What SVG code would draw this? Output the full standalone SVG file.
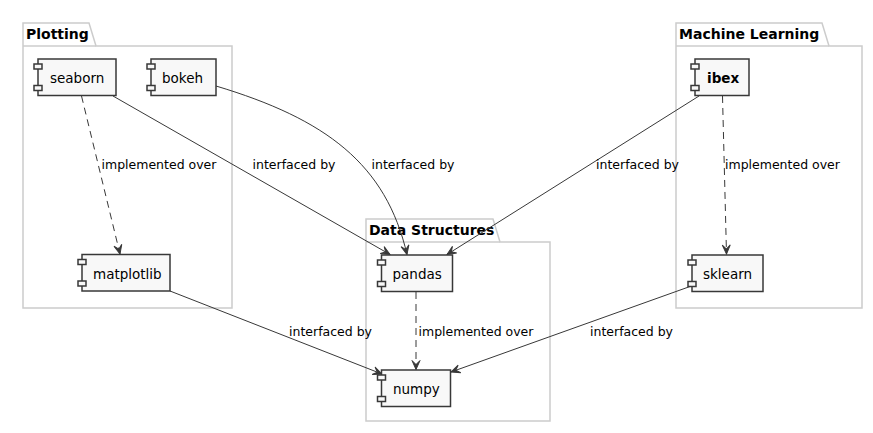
<svg xmlns="http://www.w3.org/2000/svg" width="873" height="433" viewBox="0 0 873 433">
<style>
.pkg{fill:#FFFFFF;stroke:#CCCCCC;stroke-width:1.5}
.pkgline{fill:none;stroke:#CCCCCC;stroke-width:1.5}
.ptitle{font-family:"DejaVu Sans",sans-serif;font-size:14px;font-weight:bold;fill:#000000}
.comp{fill:#F8F8F8;stroke:#383838;stroke-width:1.5}
.ctext{font-family:"DejaVu Sans",sans-serif;font-size:13.5px;fill:#000000}
.bold{font-weight:bold}
.edge{fill:none;stroke:#383838;stroke-width:1}
.dash{stroke-dasharray:7,5}
.lbl{font-family:"DejaVu Sans",sans-serif;font-size:12.5px;fill:#000000}
</style>
<defs>
<marker id="arr" viewBox="-10 -5 11 10" refX="0" refY="0" markerWidth="11" markerHeight="10" markerUnits="userSpaceOnUse" orient="auto">
<path d="M0,0 L-9,-4 L-5,0 L-9,4 Z" fill="#383838" stroke="#383838" stroke-width="1" stroke-dasharray="none"/>
</marker>
</defs>
<rect x="0" y="0" width="873" height="433" fill="#FFFFFF"/>

<g id="pkg-plotting">
<path class="pkg" d="M23,23 L89,23 L96,46 L232,46 L232,308 L23,308 Z"/>
<path class="pkgline" d="M23,46 L96,46"/>
<text class="ptitle" x="26" y="39">Plotting</text>
</g>
<g id="pkg-datastructures">
<path class="pkg" d="M366,219 L493,219 L500,242 L550,242 L550,421 L366,421 Z"/>
<path class="pkgline" d="M366,242 L500,242"/>
<text class="ptitle" x="369" y="235">Data Structures</text>
</g>
<g id="pkg-ml">
<path class="pkg" d="M676,23 L822,23 L829,46 L862,46 L862,308 L676,308 Z"/>
<path class="pkgline" d="M676,46 L829,46"/>
<text class="ptitle" x="679" y="39">Machine Learning</text>
</g>

<g id="connectors">
<path class="edge dash" d="M81.5,96 L120,254" marker-end="url(#arr)"/>
<text class="lbl" x="101.5" y="168.5">implemented over</text>
<path class="edge" d="M113,96 L390,254.5" marker-end="url(#arr)"/>
<text class="lbl" x="252.5" y="168.5">interfaced by</text>
<path class="edge" d="M216,86 C326,119 386,164 407,254.5" marker-end="url(#arr)"/>
<text class="lbl" x="371.5" y="168.5">interfaced by</text>
<path class="edge" d="M699,96 L447,254.5" marker-end="url(#arr)"/>
<text class="lbl" x="596" y="168.5">interfaced by</text>
<path class="edge dash" d="M722.5,96 L726.5,254" marker-end="url(#arr)"/>
<text class="lbl" x="725" y="168.5">implemented over</text>
<path class="edge" d="M170,291 L382,374" marker-end="url(#arr)"/>
<text class="lbl" x="289" y="335.5">interfaced by</text>
<path class="edge dash" d="M416,292 L416,369.5" marker-end="url(#arr)"/>
<text class="lbl" x="418.5" y="335.5">implemented over</text>
<path class="edge" d="M690,286.5 L451,372" marker-end="url(#arr)"/>
<text class="lbl" x="590" y="335.5">interfaced by</text>
</g>

<g id="seaborn">
<rect class="comp" x="38" y="59" width="78" height="36.5"/>
<rect class="comp" x="34" y="64" width="8" height="5"/>
<rect class="comp" x="34" y="85.5" width="8" height="5"/>
<text class="ctext" x="50" y="83">seaborn</text>
</g>
<g id="bokeh">
<rect class="comp" x="151" y="59" width="65" height="36.5"/>
<rect class="comp" x="147" y="64" width="8" height="5"/>
<rect class="comp" x="147" y="85.5" width="8" height="5"/>
<text class="ctext" x="162" y="83">bokeh</text>
</g>
<g id="matplotlib">
<rect class="comp" x="82" y="254.5" width="88" height="36.5"/>
<rect class="comp" x="78" y="259.5" width="8" height="5"/>
<rect class="comp" x="78" y="281" width="8" height="5"/>
<text class="ctext" x="93" y="278.5">matplotlib</text>
</g>
<g id="pandas">
<rect class="comp" x="381.5" y="255" width="71" height="36.5"/>
<rect class="comp" x="377.5" y="260" width="8" height="5"/>
<rect class="comp" x="377.5" y="281.5" width="8" height="5"/>
<text class="ctext" x="392.5" y="279">pandas</text>
</g>
<g id="numpy">
<rect class="comp" x="381.5" y="370" width="69" height="36.5"/>
<rect class="comp" x="377.5" y="375" width="8" height="5"/>
<rect class="comp" x="377.5" y="396.5" width="8" height="5"/>
<text class="ctext" x="393" y="394">numpy</text>
</g>
<g id="ibex">
<rect class="comp" x="695" y="59" width="54" height="36.5"/>
<rect class="comp" x="691" y="64" width="8" height="5"/>
<rect class="comp" x="691" y="85.5" width="8" height="5"/>
<text class="ctext bold" x="707" y="83">ibex</text>
</g>
<g id="sklearn">
<rect class="comp" x="692" y="255" width="71" height="36.5"/>
<rect class="comp" x="688" y="260" width="8" height="5"/>
<rect class="comp" x="688" y="281.5" width="8" height="5"/>
<text class="ctext" x="703" y="279">sklearn</text>
</g>
</svg>
